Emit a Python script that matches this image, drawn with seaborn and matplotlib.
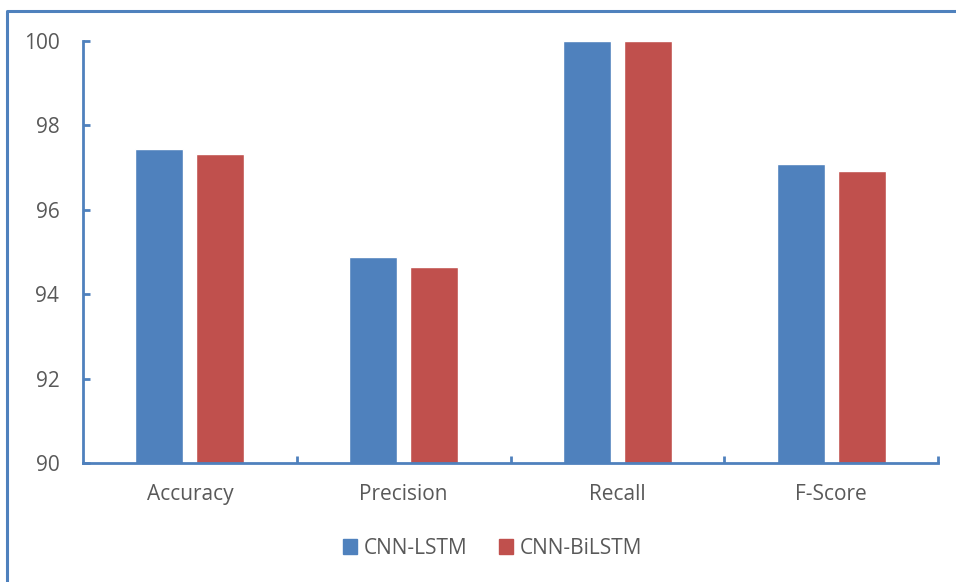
import matplotlib
matplotlib.use("Agg")
import matplotlib.pyplot as plt
import seaborn as sns
import pandas as pd
from matplotlib.lines import Line2D

metrics = ["Accuracy", "Precision", "Recall", "F-Score"]
models = ["CNN-LSTM", "CNN-BiLSTM"]
cnn_lstm = [97.44, 94.89, 100.0, 97.09]
cnn_bilstm = [97.31, 94.65, 100.0, 96.93]
colors = ["#4F81BD", "#C0504D"]

frame = pd.DataFrame({
    "Metric": metrics * 2,
    "Model": [models[0]] * 4 + [models[1]] * 4,
    "Value": cnn_lstm + cnn_bilstm,
})

sns.set_style("white")
plt.rcParams["font.family"] = ["Open Sans", "DejaVu Sans"]
text_col = "#595959"
axis_col = "#4F81BD"

fig = plt.figure(figsize=(9.56, 5.82), dpi=100)
ax = fig.add_axes([0.0868, 0.2045, 0.8945, 0.7251])

sns.barplot(data=frame, x="Metric", y="Value", hue="Model", order=metrics,
            hue_order=models, palette=colors, width=0.57, gap=0.21,
            saturation=1, ax=ax, legend=False)

ax.set_ylim(90, 100)
ax.set_xlim(-0.5, 3.5)
ax.set_yticks([90, 92, 94, 96, 98, 100])
ax.set_xlabel("")
ax.set_ylabel("")

for s in ["top", "right"]:
    ax.spines[s].set_visible(False)
for s in ["left", "bottom"]:
    ax.spines[s].set_color(axis_col)
    ax.spines[s].set_linewidth(2)

ax.tick_params(axis="y", left=True, direction="in", length=5, width=2,
               color=axis_col, labelsize=15, labelcolor=text_col, pad=17)
ax.tick_params(axis="x", which="major", length=0, labelsize=15,
               labelcolor=text_col, pad=15)
ax.set_xticks([0.5, 1.5, 2.5, 3.5], minor=True)
ax.tick_params(axis="x", which="minor", bottom=True, direction="in",
               length=5, width=2, color=axis_col)

handles = [plt.Rectangle((0, 0), 1, 1, color=c) for c in colors]
fig.legend(handles, models, loc="center", bbox_to_anchor=(0.515, 0.058),
           ncol=2, frameon=False, fontsize=15, handlelength=0.7,
           handleheight=0.7, handletextpad=0.3, columnspacing=1.5,
           labelcolor=text_col)

# figure frame (left and top edges visible)
fig.add_artist(Line2D([7 / 956, 7 / 956, 1.0], [0.0, 1 - 11 / 582, 1 - 11 / 582],
                      transform=fig.transFigure, color=axis_col, lw=2.2))

fig.savefig("out.png", dpi=100)
